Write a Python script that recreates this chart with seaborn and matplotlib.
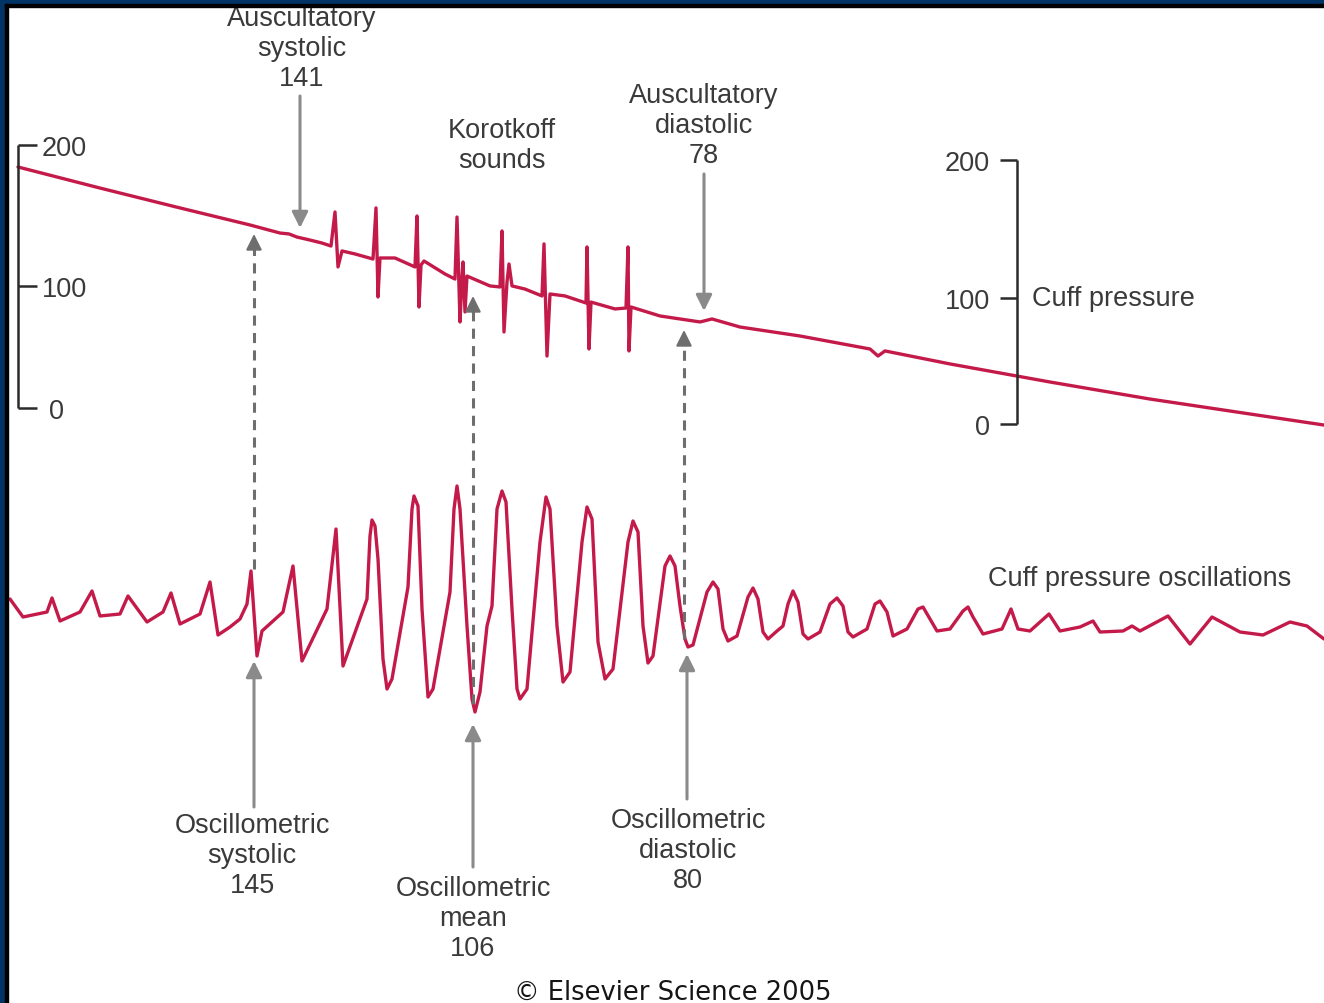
import matplotlib
matplotlib.use('Agg')
import matplotlib.pyplot as plt
from matplotlib.patches import Rectangle
import seaborn as sns

# cuff pressure trace with Korotkoff sounds (time in s, pressure in mmHg)
cuff_time = [0.36, 2.00, 3.60, 5.00, 5.60, 5.78, 5.94, 6.20, 6.44, 6.62,
             6.70, 6.76, 6.84, 7.10, 7.46, 7.52, 7.56, 7.60, 7.90, 8.30,
             8.34, 8.38, 8.42, 8.48, 8.90, 9.10, 9.14, 9.20, 9.24, 9.26,
             9.30, 9.34, 9.80, 10.00, 10.04, 10.08, 10.14, 10.18, 10.24, 10.50,
             10.84, 10.88, 10.94, 11.00, 11.30, 11.72, 11.74, 11.78, 11.82, 12.30,
             12.52, 12.56, 12.58, 12.62, 13.20, 14.00, 14.24, 14.80, 16.00, 17.40,
             17.56, 17.70, 19.00, 21.00, 23.00, 25.00, 26.48]
cuff_mmhg = [197.7, 181.5, 166.2, 153.1, 146.9, 146.2, 143.8, 141.5, 139.2, 136.9,
             163.1, 120.8, 133.1, 130.8, 126.9, 166.2, 97.7, 127.7, 127.7, 120.8,
             160.0, 90.0, 122.3, 125.4, 115.4, 111.5, 159.2, 78.5, 113.1, 124.6,
             86.2, 113.8, 106.2, 105.4, 148.5, 70.8, 109.2, 123.1, 106.2, 103.8,
             98.5, 138.5, 52.3, 100.0, 98.5, 93.1, 136.2, 57.7, 93.8, 88.5,
             89.2, 136.2, 56.2, 90.0, 83.1, 78.5, 80.8, 74.6, 67.7, 57.7,
             52.3, 56.2, 46.2, 32.3, 19.2, 7.7, -0.8]

# cuff pressure oscillations (time in s, amplitude in arbitrary units)
osc_time = [0.20, 0.46, 0.94, 1.04, 1.20, 1.60, 1.84, 2.00, 2.40, 2.56,
            2.94, 3.26, 3.42, 3.60, 4.00, 4.20, 4.36, 4.60, 4.80, 4.94,
            5.02, 5.14, 5.24, 5.66, 5.86, 6.04, 6.54, 6.72, 6.86, 7.34,
            7.40, 7.44, 7.50, 7.56, 7.66, 7.74, 7.84, 8.16, 8.24, 8.28,
            8.36, 8.44, 8.56, 8.66, 9.00, 9.08, 9.14, 9.20, 9.34, 9.44,
            9.50, 9.60, 9.74, 9.84, 9.94, 10.04, 10.12, 10.24, 10.34, 10.40,
            10.54, 10.80, 10.92, 11.00, 11.14, 11.26, 11.40, 11.64, 11.74, 11.84,
            11.96, 12.10, 12.26, 12.56, 12.66, 12.76, 12.86, 12.96, 13.06, 13.30,
            13.40, 13.50, 13.60, 13.70, 13.76, 13.86, 14.14, 14.26, 14.36, 14.46,
            14.56, 14.74, 14.96, 15.06, 15.16, 15.26, 15.36, 15.54, 15.66, 15.76,
            15.86, 15.96, 16.06, 16.16, 16.40, 16.60, 16.74, 16.86, 16.96, 17.06,
            17.34, 17.50, 17.60, 17.74, 17.86, 18.14, 18.36, 18.46, 18.60, 18.74,
            19.00, 19.26, 19.36, 19.46, 19.66, 20.04, 20.22, 20.36, 20.60, 20.98,
            21.20, 21.60, 21.86, 22.00, 22.46, 22.64, 22.80, 23.36, 23.80, 24.24,
            24.80, 25.26, 25.80, 26.14, 26.48]
osc_amp = [2.0, 0.2, 0.7, 2.1, -0.2, 0.7, 2.8, 0.3, 0.5, 2.3,
           -0.3, 0.7, 2.6, -0.5, 0.5, 3.7, -1.6, -0.8, 0.0, 1.5,
           4.8, -3.7, -1.2, 0.7, 5.3, -4.2, 1.0, 9.0, -4.7, 2.0,
           8.3, 9.9, 9.3, 6.0, -4.0, -7.0, -6.0, 3.2, 11.0, 12.3,
           11.3, 1.0, -7.8, -7.0, 2.7, 11.0, 13.3, 11.0, -0.7, -8.0,
           -9.3, -7.3, -0.7, 1.3, 11.0, 12.8, 11.7, 1.0, -7.0, -8.0,
           -7.0, 7.7, 12.2, 11.0, -0.7, -6.3, -5.3, 7.7, 11.2, 10.0,
           -2.3, -6.0, -5.0, 7.7, 9.8, 8.7, -0.7, -4.4, -3.7, 5.3,
           6.3, 5.3, 1.3, -2.0, -2.8, -2.6, 2.7, 3.7, 3.0, -1.0,
           -2.2, -1.7, 2.2, 3.1, 2.0, -1.3, -2.0, -1.2, -0.7, 1.5,
           2.8, 1.7, -1.5, -2.0, -1.3, 1.5, 2.1, 1.3, -1.3, -1.8,
           -1.0, 1.5, 1.8, 0.7, -1.7, -1.0, 1.0, 1.2, 0.0, -1.2,
           -1.0, 0.8, 1.2, 0.2, -1.5, -1.0, 1.0, -1.0, -1.2, 0.5,
           -1.2, -0.8, -0.2, -1.3, -1.2, -0.7, -1.2, 0.3, -2.5, 0.2,
           -1.3, -1.6, -0.3, -0.7, -2.0]

# scale bar tick labels
scale_labels = ['200', '100', '0']

# annotation labels
label_aus_sys = 'Auscultatory\nsystolic\n141'
label_korotkoff = 'Korotkoff\nsounds'
label_aus_dia = 'Auscultatory\ndiastolic\n78'
label_osc_sys = 'Oscillometric\nsystolic\n145'
label_osc_mean = 'Oscillometric\nmean\n106'
label_osc_dia = 'Oscillometric\ndiastolic\n80'

W, H = 1324, 1004
TRACE = '#c41a4a'
TEXT = '#3a3a3a'
ARROW = '#8a8a8a'
DASH = '#6e6e6e'
NAVY = '#003366'

sns.set_theme(style='white')
plt.rcParams['font.family'] = ['Liberation Sans', 'DejaVu Sans']

fig = plt.figure(figsize=(W / 100, H / 100), dpi=100, facecolor='white')

# pressure axes: 0 mmHg at pixel row 425, 1.3 px per mmHg, 50 px per second
ax_p = fig.add_axes([0, 0, 1, 1])
ax_p.set_xlim(0, W / 50)
ax_p.set_ylim((425 - H) / 1.3, 425 / 1.3)

# oscillation axes: baseline at pixel row 620, 10 px per unit
ax_o = fig.add_axes([0, 0, 1, 1])
ax_o.set_xlim(0, W / 50)
ax_o.set_ylim((620 - H) / 10, 620 / 10)

# overlay in pixel coordinates for scale bars, arrows and labels
ax_a = fig.add_axes([0, 0, 1, 1])
ax_a.set_xlim(0, W)
ax_a.set_ylim(H, 0)

for ax in (ax_p, ax_o, ax_a):
    ax.set_axis_off()
    ax.patch.set_alpha(0)

sns.lineplot(x=cuff_time, y=cuff_mmhg, ax=ax_p, sort=False, estimator=None,
             color=TRACE, linewidth=2.4)
sns.lineplot(x=osc_time, y=osc_amp, ax=ax_o, sort=False, estimator=None,
             color=TRACE, linewidth=2.4)
for ax in (ax_p, ax_o):
    for ln in ax.lines:
        ln.set_solid_joinstyle('round')
        ln.set_solid_capstyle('round')

# left scale bar
bar_kw = dict(color='#2b2b2b', lw=1.8, solid_capstyle='butt')
ax_a.plot([18, 18], [146, 409], **bar_kw)
for yy, lab in zip([146, 287, 409], scale_labels):
    ax_a.plot([18, 37], [yy, yy], **bar_kw)
    ax_a.text(42 if lab != '0' else 49, yy + 3, lab, fontsize=19.5, color=TEXT,
              ha='left', va='center')

# right scale bar
ax_a.plot([1017, 1017], [161, 425], **bar_kw)
for yy, lab in zip([161, 299, 425], scale_labels):
    ax_a.plot([1000, 1017], [yy, yy], **bar_kw)
    ax_a.text(990, yy + 3, lab, fontsize=19.5, color=TEXT, ha='right', va='center')
ax_a.text(1032, 299, 'Cuff pressure', fontsize=19.5, color=TEXT, ha='left', va='center')
ax_a.text(988, 579, 'Cuff pressure oscillations', fontsize=19.5, color=TEXT,
          ha='left', va='center')

# solid arrows
head = '-|>,head_length=0.6,head_width=0.3'
solid_arrows = [((300, 97), (300, 229)), ((704, 175), (704, 312)),
                ((254, 808), (254, 662)), ((473, 868), (473, 725)),
                ((687, 800), (687, 655))]
for tail, tip in solid_arrows:
    ax_a.annotate('', xy=tip, xytext=tail,
                  arrowprops=dict(arrowstyle=head, color=ARROW, lw=2.2,
                                  mutation_scale=16, shrinkA=0, shrinkB=0))

# dashed arrows linking the two traces
dashed_arrows = [((254, 570), (254, 235)), ((473, 705), (473, 297)),
                 ((684, 640), (684, 331))]
for tail, tip in dashed_arrows:
    ax_a.plot([tail[0], tip[0]], [tail[1], tip[1] + 10], color=DASH, lw=2.2,
              dashes=(3.3, 2.4))
    ax_a.annotate('', xy=tip, xytext=(tip[0], tip[1] + 12),
                  arrowprops=dict(arrowstyle=head, color=DASH, lw=1.5,
                                  mutation_scale=16, shrinkA=0, shrinkB=0))

# labels
txt_kw = dict(fontsize=19.5, color=TEXT, ha='center', va='center', linespacing=1.2)
ax_a.text(302, 49, label_aus_sys, **txt_kw)
ax_a.text(502, 146, label_korotkoff, **txt_kw)
ax_a.text(704, 126, label_aus_dia, **txt_kw)
ax_a.text(252, 856, label_osc_sys, **txt_kw)
ax_a.text(473, 919, label_osc_mean, **txt_kw)
ax_a.text(688, 851, label_osc_dia, **txt_kw)

ax_a.text(673, 993, '\u00a9 Elsevier Science 2005', fontsize=18.5, color='#151515',
          ha='center', va='center', family=['DejaVu Sans'])

# slide frame (top and left edges)
for rect in [Rectangle((0, 0), W, 5, color=NAVY), Rectangle((0, 0), 5, H, color=NAVY),
             Rectangle((5, 5), W, 2.5, color='black'),
             Rectangle((5, 5), 2.5, H, color='black')]:
    rect.set_zorder(10)
    ax_a.add_patch(rect)

fig.savefig('out.png', dpi=100, facecolor='white')
